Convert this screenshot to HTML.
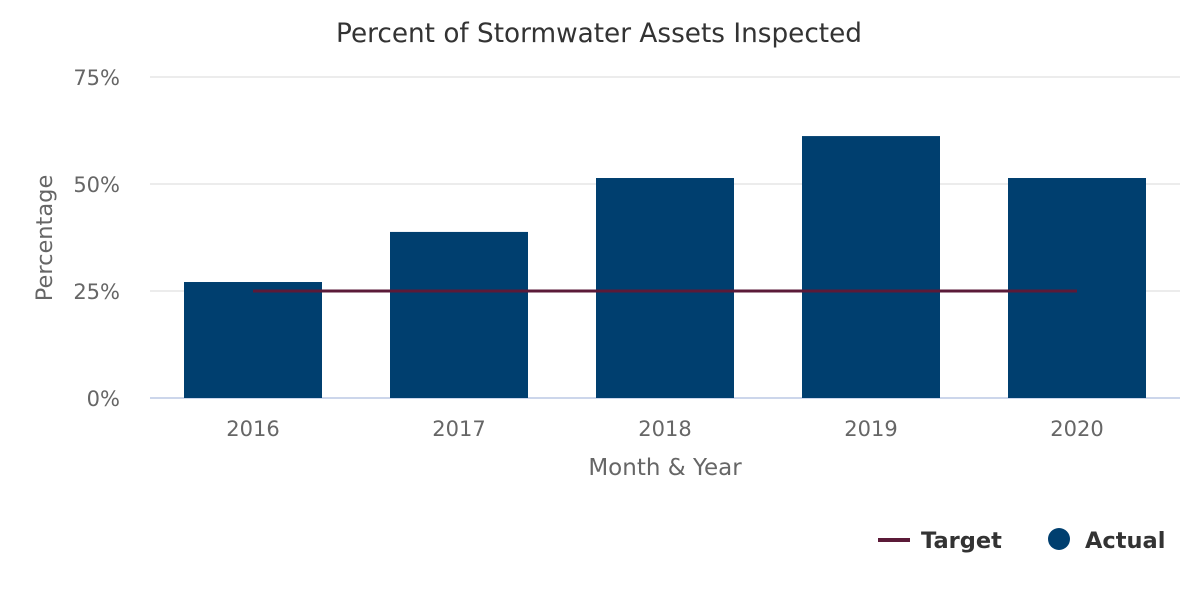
<!DOCTYPE html>
<html><head><meta charset="utf-8"><style>
body{margin:0;background:#fff;font-family:"DejaVu Sans",sans-serif;}
svg text{font-family:"DejaVu Sans",sans-serif;}
</style></head><body>
<svg id="chart" width="1200" height="600">
<text x="599" y="42" text-anchor="middle" font-size="26.3" fill="#333">Percent of Stormwater Assets Inspected</text>
<g id="grid"></g><g id="bars"></g><g id="target"></g><g id="xlabels"></g>
<text x="665" y="475" text-anchor="middle" font-size="23" fill="#666">Month &amp; Year</text>
<text transform="translate(52,238) rotate(-90)" text-anchor="middle" font-size="22.5" fill="#666">Percentage</text>
<g><line x1="878" y1="540" x2="910" y2="540" stroke="#5b1a38" stroke-width="4"/><text x="921" y="548" font-size="22.5" font-weight="bold" fill="#333">Target</text></g>
<g><circle cx="1059" cy="539" r="11" fill="#003f6f"/><text x="1085" y="548" font-size="22.5" font-weight="bold" fill="#333">Actual</text></g>
</svg>
<script>
const categories=["2016","2017","2018","2019","2020"];
const actual=[27.1,38.8,51.4,61.2,51.4];
const target=[25,25,25,25,25];
const yTicks=[0,25,50,75];
const x0=150,x1=1180,yBase=398,yTop=77,yMax=75;
const ns="http://www.w3.org/2000/svg";
const band=(x1-x0)/categories.length;
const xc=i=>x0+band*(i+0.5);
const y=v=>yBase-(v/yMax)*(yBase-yTop);
function mk(t,a,p){const e=document.createElementNS(ns,t);for(const k in a)e.setAttribute(k,a[k]);document.getElementById(p).appendChild(e);return e;}
yTicks.forEach(t=>{
 const l=mk('line',{x1:x0,x2:x1,y1:y(t),y2:y(t),stroke:t===0?'#ccd6eb':'#e6e6e6','stroke-width':t===0?2:1.5},'grid');
 
 
 const tx=mk('text',{x:120,y:y(t)+8,'text-anchor':'end','font-size':21,fill:'#666'},'grid');tx.textContent=t+'%';
 
 
});
categories.forEach((c,i)=>{
 const bw=138;
 const r=mk('rect',{x:xc(i)-bw/2,y:y(actual[i]),width:bw,height:yBase-y(actual[i]),fill:'#003f6f'},'bars');
 
 
 const t=mk('text',{x:xc(i),y:436,'text-anchor':'middle','font-size':21,fill:'#666'},'xlabels');t.textContent=c;
 
 
});
const pts=target.map((v,i)=>xc(i)+','+y(v)).join(' ');
const pl=mk('polyline',{points:pts,fill:'none',stroke:'#5b1a38','stroke-width':3},'target');


</script>
</body></html>
